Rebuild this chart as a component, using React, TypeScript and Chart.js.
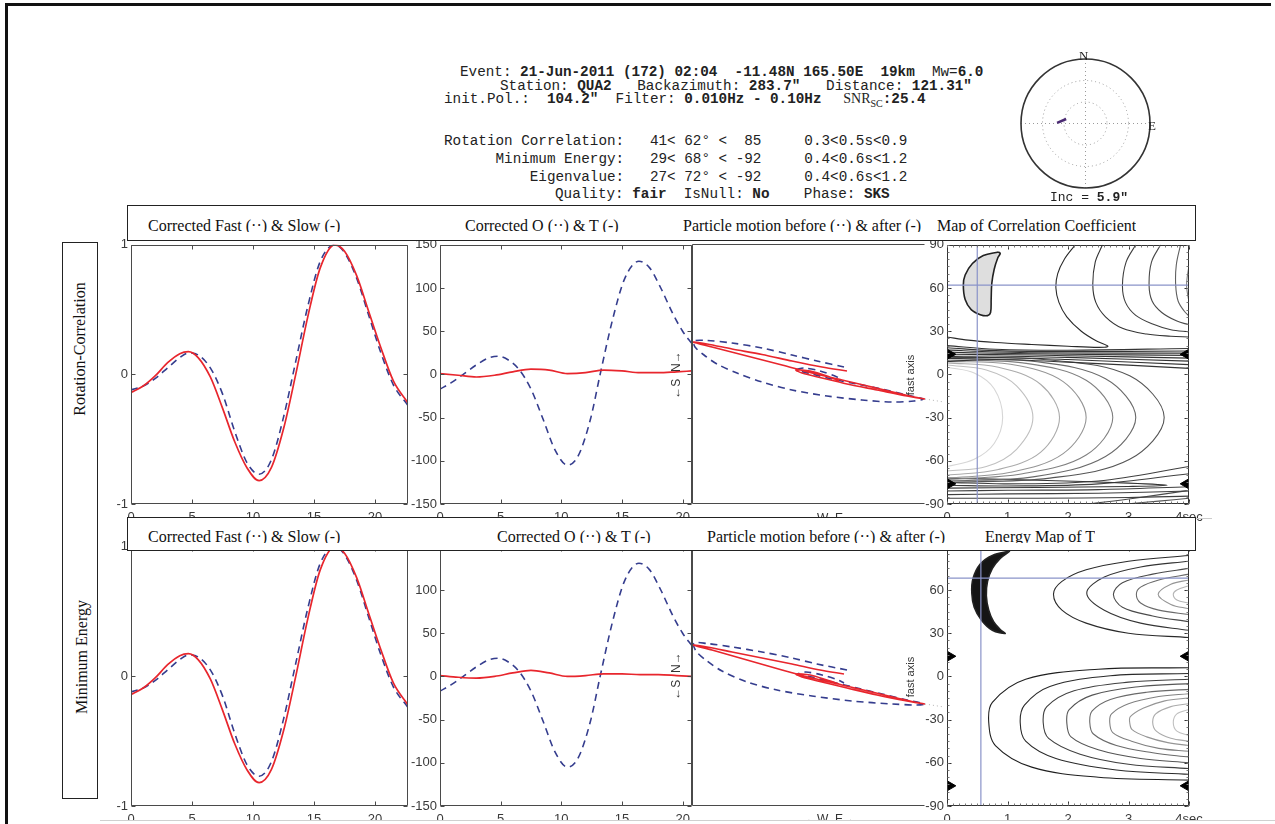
import React, { useEffect, useRef } from "react";
import { Chart, registerables } from "chart.js";

// ---------------- data ----------------
// waveforms: corrected fast (dashed) & slow (solid), amplitude normalised
const WAVE_TIME = [0, 1, 2, 3, 4, 4.7, 5.5, 6.5, 7.5, 8.5, 9.5, 10.5, 11.5, 12.5, 13.5, 14.5, 15.5, 16.7, 17.5, 18.5, 19.5, 20.5, 21.5, 22.7];
const FAST = [-0.12, -0.09, -0.03, 0.05, 0.13, 0.165, 0.15, 0.05, -0.15, -0.44, -0.68, -0.77, -0.66, -0.33, 0.1, 0.53, 0.87, 1.0, 0.94, 0.74, 0.45, 0.16, -0.08, -0.24];
const SLOW = [-0.14, -0.09, -0.01, 0.09, 0.16, 0.175, 0.13, -0.02, -0.26, -0.52, -0.72, -0.82, -0.72, -0.42, 0.0, 0.45, 0.82, 1.0, 0.95, 0.76, 0.48, 0.2, -0.05, -0.22];
const WAVE_X_TICKS = [0, 5, 10, 15, 20];
const WAVE_Y_TICKS = [-1, 0, 1];

// corrected O (dashed) & T (solid)
const O_TIME = [0, 1, 2, 3, 4, 4.8, 5.6, 6.5, 7.5, 8.5, 9.5, 10.5, 11.4, 12.4, 13.2, 14.2, 15.2, 16.4, 17.3, 18.2, 19.2, 20, 20.75];
const O_COMP = [-17, -9, 1, 11, 19, 21, 17, 6, -17, -52, -88, -105, -94, -52, 0, 62, 110, 131, 123, 100, 70, 50, 36];
const T_TIME = [0, 1.5, 3, 4.5, 6, 7.5, 9, 10.5, 12, 13.5, 15, 16.5, 18, 19.5, 20.75];
const T_COMP_RC = [1, -1, -3, -1, 3, 6, 5, 1, 2, 5, 4, 2, 2, 3, 4];
const T_COMP_ME = [1, -1, -2, 0, 4, 7, 4, 0, 1, 3, 3, 2, 2, 1, 0];
const OT_Y_TICKS = [-150, -100, -50, 0, 50, 100, 150];

// particle motion (E-W vs N-S, arbitrary units)
const PM_BEFORE_RC = [[152, 7], [125, 13], [100, 19], [70, 26], [40, 31], [15, 33.5], [2, 33], [3, 27], [12, 19], [25, 10], [45, 1], [70, -8], [100, -16], [135, -22], [170, -26], [200, -28], [222, -27], [231, -25], [215, -21], [190, -15], [165, -10], [140, -5], [120, 0], [105, 4], [112, 6], [128, 3], [145, -3], [150, -6]];
const PM_AFTER_RC = [[155, 3], [130, 7], [100, 13], [70, 19.5], [40, 25], [15, 30], [1, 32], [20, 27], [55, 18], [90, 9], [120, 1], [150, -6], [180, -13], [205, -19], [222, -23], [233, -25], [215, -22], [185, -16], [155, -10], [130, -4], [110, 1], [104, 4], [118, 3], [135, -2], [147, -7]];
const PM_BEFORE_ME = [[155, 6], [125, 12], [100, 18], [70, 24], [40, 29], [15, 32.5], [2, 33], [4, 25], [15, 15], [30, 5], [55, -6], [85, -14], [120, -20], [160, -25], [200, -28], [225, -29], [232, -28], [215, -24], [190, -18], [165, -12], [140, -6], [120, -1], [106, 2], [114, 4], [130, 1], [146, -4], [152, -7]];
const PM_AFTER_ME = [[152, 2], [128, 6], [100, 12], [70, 18], [40, 24], [15, 29], [1, 31], [20, 26], [55, 16], [90, 6], [120, -2], [150, -9], [180, -16], [205, -22], [222, -26], [233, -28], [215, -25], [185, -19], [155, -12], [130, -6], [110, -1], [104, 2], [118, 1], [135, -4], [147, -8]];
const FAST_AXIS_RC = [[233, -25], [252, -28]];
const FAST_AXIS_ME = [[233, -28], [252, -31]];

// maps: delay time (s) vs fast axis (deg)
const MAP_X_TICKS = [0, 1, 2, 3, 4];
const MAP_Y_TICKS = [-90, -60, -30, 0, 30, 60, 90];
const CORR_BEST = { dt: 0.5, phi: 62 };
const ENERGY_BEST = { dt: 0.56, phi: 68.3 };
const NULL_DIRS = [14, -76];

const CORR_CONFIDENCE = [[0.85, 85], [0.6, 82.5], [0.42, 77], [0.3, 69], [0.27, 62], [0.3, 52], [0.4, 45], [0.55, 41.5], [0.67, 40.8], [0.72, 43], [0.73, 52], [0.74, 63], [0.78, 73], [0.84, 81], [0.88, 84], [0.85, 85]];
const ENERGY_CONFIDENCE = [[1.04, 87], [0.75, 84], [0.55, 78], [0.43, 68], [0.41, 58], [0.45, 48], [0.57, 39], [0.75, 32], [0.96, 29.8], [0.88, 32.5], [0.77, 38], [0.69, 46], [0.65, 56], [0.67, 66], [0.75, 75], [0.88, 82], [1.04, 87]];

const CORR_CONTOURS = [
  [[2.12, 90], [1.94, 80], [1.83, 70], [1.8, 60], [1.85, 50], [1.98, 40], [2.22, 30], [2.48, 23], [2.66, 19.5], [2.5, 18.8], [2.0, 19.6], [1.4, 20.8], [0.8, 22.2], [0.35, 23.8], [0, 26]],
  [[2.57, 90], [2.45, 78], [2.41, 62], [2.46, 50], [2.62, 40], [2.9, 32], [3.3, 28], [3.7, 26.5], [4, 26]],
  [[3.12, 90], [2.96, 78], [2.9, 62], [2.95, 50], [3.12, 41], [3.4, 35], [3.7, 31], [4, 29.5]],
  [[3.53, 90], [3.38, 78], [3.34, 62], [3.39, 51], [3.55, 43], [3.8, 37], [4, 34.5]],
  [[3.86, 90], [3.79, 76], [3.78, 62], [3.82, 51], [3.92, 44], [4, 40.5]],
  [[4, 76], [3.96, 62], [4, 50]],
  [[0, 20], [0.8, 17.5], [2, 16.8], [4, 18]],
  [[0, 18.5], [0.8, 16.5], [2, 15.8], [4, 16.3]],
  [[0, 17], [0.8, 15.6], [2, 14.9], [4, 14.8]],
  [[0, 15.5], [0.8, 14.7], [2, 14], [4, 13.2]],
  [[0, 14], [0.8, 13.8], [2, 13], [4, 11.3]],
  [[0, 12.5], [0.8, 12.8], [2, 11.8], [4, 9.2]],
  [[0, 11], [0.8, 11.7], [2, 10.3], [4, 6.8]],
  [[0, 9], [0.8, 10.3], [2, 8.5], [4, 4.2]],
  [[0, 5], [0.45, 1], [0.78, -10], [0.92, -30], [0.78, -48], [0.45, -59], [0, -64]],
  [[0, 6.5], [0.65, 3], [1.15, -8], [1.42, -30], [1.15, -52], [0.65, -64], [0, -67]],
  [[0, 8], [0.85, 5], [1.55, -7], [1.86, -30], [1.55, -54], [0.85, -66], [0, -70]],
  [[0, 9], [1.05, 7], [1.92, -5], [2.3, -30], [1.92, -55], [1.05, -68], [0, -72]],
  [[0, 10], [1.25, 8], [2.3, -4], [2.74, -30], [2.3, -56], [1.25, -69], [0, -73]],
  [[0, 11], [1.45, 9], [2.62, -3], [3.12, -30], [2.62, -57], [1.45, -71], [0, -74]],
  [[0, 12], [1.7, 10], [3.02, -1], [3.59, -30], [3.02, -59], [1.7, -72], [0, -75]],
  [[0, -72], [1.5, -73.5], [3, -75.5], [3.64, -77], [3, -77.8], [1.5, -78.5], [0, -79]],
  [[0, -75], [1, -76], [2.5, -74], [4, -64]],
  [[0, -77], [1, -77.5], [2.5, -76], [4, -69]],
  [[0, -81], [1, -80.5], [2.5, -80], [4, -78]],
  [[0, -83.5], [1, -83], [2.5, -82.5], [4, -81]],
  [[0, -86], [1.5, -86], [3, -85.5], [4, -84.5]],
  [[2.35, -90], [3.1, -86], [4, -80.5]],
  [[2.96, -90], [3.5, -88], [4, -86]],
];
const CORR_LEVELS = [0.9, 0.85, 0.8, 0.75, 0.65, 0.5, 0.85, 0.85, 0.85, 0.85, 0.85, 0.85, 0.85, 0.85, 0.1, 0.2, 0.3, 0.4, 0.5, 0.6, 0.7, 0.85, 0.8, 0.8, 0.8, 0.8, 0.8, 0.75, 0.7];

const ENERGY_CONTOURS = [
  [[4, 84], [3, 80], [2.3, 74], [1.9, 66], [1.76, 57], [1.9, 46], [2.3, 37], [3, 30], [4, 27]],
  [[4, 80], [3.2, 76], [2.6, 69], [2.31, 58], [2.6, 46], [3.2, 37], [4, 32]],
  [[4, 75], [3.4, 71], [2.9, 65], [2.75, 57], [2.9, 48], [3.4, 42], [4, 38]],
  [[4, 71], [3.5, 67], [3.2, 62], [3.13, 57], [3.2, 51], [3.5, 46], [4, 43]],
  [[4, 67], [3.7, 64], [3.49, 57], [3.7, 50], [4, 47]],
  [[4, 63], [3.8, 60], [3.74, 57], [3.8, 53], [4, 51]],
  [[4, 6], [2.5, 5], [1.3, -2], [0.75, -18], [0.69, -32], [0.8, -48], [1.4, -63], [2.5, -70], [4, -72]],
  [[4, 2], [2.7, 0.5], [1.7, -7], [1.28, -20], [1.21, -32], [1.3, -45], [1.8, -57], [2.8, -65], [4, -68]],
  [[4, -2], [3, -4], [2.1, -10], [1.65, -21], [1.59, -32], [1.68, -43], [2.2, -54], [3, -61], [4, -64]],
  [[4, -5], [3.2, -7], [2.4, -13], [2.02, -23], [1.98, -32], [2.05, -42], [2.5, -51], [3.2, -57], [4, -60]],
  [[4, -9], [3.3, -11], [2.7, -16], [2.4, -24], [2.36, -32], [2.42, -40], [2.8, -48], [3.4, -53], [4, -56]],
  [[4, -12], [3.5, -14], [3.0, -19], [2.72, -26], [2.69, -32], [2.74, -39], [3.05, -45], [3.5, -50], [4, -52]],
  [[4, -15], [3.6, -17], [3.25, -22], [3.03, -28], [3.02, -32], [3.06, -37], [3.3, -42], [3.65, -46], [4, -48]],
  [[4, -19], [3.7, -21], [3.45, -26], [3.4, -32], [3.46, -38], [3.7, -43], [4, -45]],
  [[4, -23], [3.8, -26], [3.74, -32], [3.8, -38], [4, -41]],
];
const ENERGY_LEVELS = [0.9, 0.85, 0.75, 0.6, 0.4, 0.25, 0.95, 0.9, 0.8, 0.7, 0.6, 0.5, 0.4, 0.3, 0.2];

// stereoplot: projected splitting direction
const POLAR_SEG_X = [-0.44, -0.3];
const POLAR_SEG_Y = [0.01, 0.07];

// ---------------- chart helpers ----------------
const framePlugin = {
  id: "frame",
  afterDatasetsDraw(chart: any, _a: any, o: any) {
    if (!o || !o.sides) return;
    const { ctx, chartArea: a, scales } = chart;
    const L = Math.round(a.left) + 0.5, R = Math.round(a.right) - 0.5;
    const T = Math.round(a.top) + 0.5, B = Math.round(a.bottom) - 0.5;
    const s: string = o.sides;
    ctx.save();
    ctx.strokeStyle = o.color || "#4a4a4a";
    ctx.lineWidth = 1;
    ctx.beginPath();
    if (s.includes("l")) { ctx.moveTo(L, T); ctx.lineTo(L, B); }
    if (s.includes("r")) { ctx.moveTo(R, T); ctx.lineTo(R, B); }
    if (s.includes("t")) { ctx.moveTo(L, T); ctx.lineTo(R, T); }
    if (s.includes("b")) { ctx.moveTo(L, B); ctx.lineTo(R, B); }
    ctx.stroke();
    const drawX = (vals: number[], len: number) => {
      vals.forEach((v) => {
        const p = Math.round(scales.x.getPixelForValue(v)) + 0.5;
        if (s.includes("b")) { ctx.moveTo(p, B); ctx.lineTo(p, B - len); }
        if (s.includes("t")) { ctx.moveTo(p, T); ctx.lineTo(p, T + len); }
      });
    };
    const drawY = (vals: number[], len: number) => {
      vals.forEach((v) => {
        const p = Math.round(scales.y.getPixelForValue(v)) + 0.5;
        if (s.includes("l")) { ctx.moveTo(L, p); ctx.lineTo(L + len, p); }
        if (s.includes("r")) { ctx.moveTo(R, p); ctx.lineTo(R - len, p); }
      });
    };
    ctx.beginPath();
    if (o.xt) drawX(o.xt, 4);
    if (o.yt) drawY(o.yt, 4);
    ctx.stroke();
    if (o.minorX || o.minorY) {
      ctx.beginPath();
      ctx.strokeStyle = "#777";
      if (o.minorX) {
        const vals: number[] = [];
        for (let v = scales.x.min; v <= scales.x.max + 1e-9; v += o.minorX) vals.push(v);
        drawX(vals, 2);
      }
      if (o.minorY) {
        const vals: number[] = [];
        for (let v = scales.y.min; v <= scales.y.max + 1e-9; v += o.minorY) vals.push(v);
        drawY(vals, 2);
      }
      ctx.stroke();
    }
    ctx.restore();
  },
};

const polarPlugin = {
  id: "polarGrid",
  beforeDatasetsDraw(chart: any, _a: any, o: any) {
    if (!o || !o.on) return;
    const { ctx, chartArea: a } = chart;
    const cx = (a.left + a.right) / 2, cy = (a.top + a.bottom) / 2;
    const r = (a.right - a.left) / 2;
    ctx.save();
    ctx.strokeStyle = "#9a9a9a";
    ctx.lineWidth = 1;
    ctx.setLineDash([1, 3]);
    [r / 3, (2 * r) / 3].forEach((rr) => {
      ctx.beginPath();
      ctx.arc(cx, cy, rr, 0, Math.PI * 2);
      ctx.stroke();
    });
    ctx.beginPath();
    ctx.moveTo(cx - r, cy); ctx.lineTo(cx + r, cy);
    ctx.moveTo(cx, cy - r); ctx.lineTo(cx, cy + r);
    ctx.stroke();
    ctx.setLineDash([]);
    ctx.strokeStyle = "#333";
    ctx.lineWidth = 1.6;
    ctx.beginPath();
    ctx.arc(cx, cy, r, 0, Math.PI * 2);
    ctx.stroke();
    ctx.restore();
  },
};

Chart.register(...registerables, framePlugin, polarPlugin);

const TICK_FONT = { family: "'Liberation Sans', Arial, Helvetica, sans-serif", size: 13 };
const RED = "#e8262d";
const BLUE = "#353d8e";
const CROSS = "#8a93c9";

const pts = (arr: number[][]) => arr.map(([x, y]) => ({ x, y }));
const zip = (xs: number[], ys: number[]) => xs.map((x, i) => ({ x, y: ys[i] }));
const gray = (level: number) => {
  const g = Math.round(235 - level * 215);
  return `rgb(${g},${g},${g})`;
};

function axis(min: number, max: number, ticks: number[] | null, size: number, horizontal: boolean, fmt?: (v: number) => string) {
  return {
    type: "linear",
    min,
    max,
    display: ticks !== null,
    grid: { display: false, drawTicks: false },
    border: { display: false },
    afterBuildTicks: (s: any) => {
      if (ticks) s.ticks = ticks.map((v) => ({ value: v }));
    },
    afterFit: (s: any) => {
      if (horizontal) s.height = size;
      else s.width = size;
    },
    ticks: {
      font: TICK_FONT,
      color: "#3a3a3a",
      padding: horizontal ? 6 : 3,
      maxRotation: 0,
      minRotation: 0,
      autoSkip: false,
      callback: (v: any) => (fmt ? fmt(Number(v)) : String(v)),
    },
  };
}

type PanelSpec = {
  x: number; y: number; w: number; h: number;
  axisW: number; padT: number; padR: number; axisH: number;
  scales: any; datasets: any[]; frame?: any; polar?: boolean; padL?: number;
};

function ChartPanel({ spec }: { spec: PanelSpec }) {
  const ref = useRef<HTMLCanvasElement>(null);
  const left = spec.x - spec.axisW - (spec.padL || 0);
  const top = spec.y - spec.padT;
  const width = (spec.padL || 0) + spec.axisW + spec.w + spec.padR;
  const height = spec.padT + spec.h + spec.axisH;
  useEffect(() => {
    const chart = new Chart(ref.current as HTMLCanvasElement, {
      type: "scatter",
      data: { datasets: spec.datasets },
      options: {
        responsive: false,
        animation: false,
        events: [],
        layout: { padding: { left: spec.padL || 0, top: spec.padT, right: spec.padR, bottom: spec.scales.x.display ? 0 : spec.axisH } },
        scales: spec.scales,
        plugins: {
          legend: { display: false },
          tooltip: { enabled: false },
          frame: spec.frame || {},
          polarGrid: { on: !!spec.polar },
        } as any,
      } as any,
    });
    return () => chart.destroy();
  }, []);
  return <canvas ref={ref} width={width} height={height} style={{ position: "absolute", left, top, width, height }} />;
}

const line = (data: any[], color: string, width: number, extra: any = {}) => ({
  data,
  borderColor: color,
  backgroundColor: color,
  borderWidth: width,
  pointRadius: 0,
  showLine: true,
  fill: false,
  ...extra,
});

function wavePanel(x: number, y: number): PanelSpec {
  return {
    x, y, w: 277, h: 260, axisW: 30, padT: 10, padR: 14, axisH: 26,
    scales: { x: axis(0, 22.7, WAVE_X_TICKS, 26, true), y: axis(-1, 1, WAVE_Y_TICKS, 30, false) },
    datasets: [
      line(zip(WAVE_TIME, SLOW), RED, 1.7, { cubicInterpolationMode: "monotone" }),
      line(zip(WAVE_TIME, FAST), BLUE, 1.6, { cubicInterpolationMode: "monotone", borderDash: [7, 5] }),
    ],
    frame: { sides: "lrtb", xt: WAVE_X_TICKS, yt: WAVE_Y_TICKS },
  };
}

function otPanel(x: number, y: number, tvals: number[]): PanelSpec {
  return {
    x, y, w: 252, h: 260, axisW: 36, padT: 10, padR: 4, axisH: 26,
    scales: { x: axis(0, 20.75, WAVE_X_TICKS, 26, true), y: axis(-150, 150, OT_Y_TICKS, 36, false) },
    datasets: [
      line(zip(T_TIME, tvals), RED, 1.7, { cubicInterpolationMode: "monotone" }),
      line(zip(O_TIME, O_COMP), BLUE, 1.6, { cubicInterpolationMode: "monotone", borderDash: [7, 5] }),
    ],
    frame: { sides: "lrtb", xt: WAVE_X_TICKS, yt: OT_Y_TICKS },
  };
}

function pmPanel(x: number, y: number, before: number[][], after: number[][], fa: number[][]): PanelSpec {
  return {
    x, y, w: 233, h: 260, axisW: 0, padT: 4, padR: 22, axisH: 4,
    scales: { x: axis(0, 233, null, 0, true), y: axis(-130, 130, null, 0, false) },
    datasets: [
      line(pts(after), RED, 1.6, { tension: 0.3 }),
      line(pts(before), BLUE, 1.6, { tension: 0.3, borderDash: [7, 5] }),
      line(pts(fa), "#b0b0b0", 1, { borderDash: [1, 3], clip: false }),
    ],
    frame: { sides: "ltb" },
  };
}

function mapPanel(x: number, y: number, contours: number[][][], levels: number[], conf: number[][], confColor: string, best: { dt: number; phi: number }): PanelSpec {
  const ds: any[] = [];
  ds.push(line(NULL_DIRS.map((p) => ({ x: 0.055, y: p })), "#000", 1, { showLine: false, pointStyle: "triangle", pointRadius: 5.5, rotation: 90, clip: false }));
  ds.push(line(NULL_DIRS.map((p) => ({ x: 3.945, y: p })), "#000", 1, { showLine: false, pointStyle: "triangle", pointRadius: 5.5, rotation: -90, clip: false }));
  ds.push(line([{ x: best.dt, y: -90 }, { x: best.dt, y: 90 }], CROSS, 1.2));
  ds.push(line([{ x: 0, y: best.phi }, { x: 4, y: best.phi }], CROSS, 1.2));
  ds.push(line(pts(conf), "#222", 1.6, { tension: 0.35, fill: "shape", backgroundColor: confColor }));
  contours.forEach((c, i) => ds.push(line(pts(c), gray(levels[i]), 1.1, { tension: 0.35 })));
  return {
    x, y, w: 242, h: 260, axisW: 30, padT: 10, padR: 24, axisH: 26,
    scales: {
      x: axis(0, 4, MAP_X_TICKS, 26, true, (v) => (v === 4 ? "4sec" : String(v))),
      y: axis(-90, 90, MAP_Y_TICKS, 30, false),
    },
    datasets: ds,
    frame: { sides: "lrtb", xt: MAP_X_TICKS, yt: MAP_Y_TICKS, minorX: 0.1, minorY: 5, color: "#333" },
  };
}

const polarSpec: PanelSpec = {
  x: 1021, y: 59, w: 129, h: 129, axisW: 0, padT: 2, padR: 2, padL: 2, axisH: 2,
  scales: { x: axis(-1, 1, null, 0, true), y: axis(-1, 1, null, 0, false) },
  datasets: [line(zip(POLAR_SEG_X, POLAR_SEG_Y), "#4a2a72", 2.6)],
  polar: true,
};

// ---------------- page ----------------
const MONO: React.CSSProperties = {
  position: "absolute",
  fontFamily: "'Liberation Mono', 'Courier New', monospace",
  fontSize: 14.3,
  lineHeight: "16px",
  whiteSpace: "pre",
  color: "#222",
};
const SERIF = "'Liberation Serif', 'Times New Roman', serif";
const SANS = "'Liberation Sans', Arial, sans-serif";

function Title({ x, top, h, text }: { x: number; top: number; h: number; text: string }) {
  return (
    <div style={{ position: "absolute", left: x, top, height: h, overflow: "hidden", fontFamily: SERIF, fontSize: 16, lineHeight: "18px", whiteSpace: "pre", color: "#111" }}>
      {text}
    </div>
  );
}

function VText({ cx, cy, text, font, size, color }: any) {
  return (
    <div style={{ position: "absolute", left: cx - 150, top: cy - 10, width: 300, height: 20, lineHeight: "20px", textAlign: "center", transform: "rotate(-90deg)", fontFamily: font, fontSize: size, color, whiteSpace: "pre" }}>
      {text}
    </div>
  );
}

export default function App() {
  return (
    <div style={{ position: "fixed", left: 0, top: 0, width: 1275, height: 824, overflow: "hidden", background: "#fff" }}>
      {/* outer frame */}
      <div style={{ position: "absolute", left: 5, top: 3, width: 1263, height: 900, borderTop: "3px solid #111", borderLeft: "3px solid #111" }} />

      {/* header */}
      <div style={{ ...MONO, left: 460, top: 64 }}>Event: <b>21-Jun-2011 (172) 02:04  -11.48N 165.50E  19km</b>  Mw=<b>6.0</b></div>
      <div style={{ ...MONO, left: 500, top: 78 }}>Station: <b>QUA2</b>{"   Backazimuth: "}<b>283.7″</b>{"   Distance: "}<b>121.31″</b></div>
      <div style={{ ...MONO, left: 444, top: 91 }}>
        {"init.Pol.:  "}<b>104.2″</b>{"  Filter: "}<b>0.010Hz - 0.10Hz</b>{"   "}<span style={{ fontFamily: SERIF, fontSize: 14, marginLeft: -4 }}>SNR<sub style={{ fontSize: 10 }}>SC</sub></span><b>:25.4</b>
      </div>
      <div style={{ ...MONO, left: 444, top: 133 }}>{"Rotation Correlation:   41< 62° <  85     0.3<0.5s<0.9"}</div>
      <div style={{ ...MONO, left: 444, top: 151 }}>{"      Minimum Energy:   29< 68° < -92     0.4<0.6s<1.2"}</div>
      <div style={{ ...MONO, left: 444, top: 169 }}>{"          Eigenvalue:   27< 72° < -92     0.4<0.6s<1.2"}</div>
      <div style={{ ...MONO, left: 555, top: 186 }}>{"Quality: "}<b>fair</b>{"  IsNull: "}<b>No</b>{"    Phase: "}<b>SKS</b></div>

      {/* stereoplot */}
      <ChartPanel spec={polarSpec} />
      <div style={{ position: "absolute", left: 1079, top: 48, fontFamily: SERIF, fontSize: 13, color: "#222" }}>N</div>
      <div style={{ position: "absolute", left: 1148, top: 118, fontFamily: SERIF, fontSize: 13, color: "#222" }}>E</div>
      <div style={{ ...MONO, fontSize: 13, left: 1050, top: 190 }}>{"Inc = "}<b>5.9″</b></div>

      {/* row 1 : rotation correlation */}
      <ChartPanel spec={wavePanel(131, 244)} />
      <ChartPanel spec={otPanel(440, 244, T_COMP_RC)} />
      <ChartPanel spec={pmPanel(692, 244, PM_BEFORE_RC, PM_AFTER_RC, FAST_AXIS_RC)} />
      <ChartPanel spec={mapPanel(947, 244, CORR_CONTOURS, CORR_LEVELS, CORR_CONFIDENCE, "#dedede", CORR_BEST)} />
      <VText cx={676} cy={375} text="←S  N→" font={SANS} size={12} color="#333" />
      <VText cx={910} cy={375} text="fast axis" font={SANS} size={11} color="#333" />
      <div style={{ position: "absolute", left: 805, top: 511, fontFamily: SANS, fontSize: 12, color: "#333", whiteSpace: "pre" }}>←W  E→</div>

      {/* row 2 : minimum energy */}
      <ChartPanel spec={wavePanel(131, 546)} />
      <ChartPanel spec={otPanel(440, 546, T_COMP_ME)} />
      <ChartPanel spec={pmPanel(692, 546, PM_BEFORE_ME, PM_AFTER_ME, FAST_AXIS_ME)} />
      <ChartPanel spec={mapPanel(947, 546, ENERGY_CONTOURS, ENERGY_LEVELS, ENERGY_CONFIDENCE, "#151515", ENERGY_BEST)} />
      <VText cx={676} cy={676} text="←S  N→" font={SANS} size={12} color="#333" />
      <VText cx={910} cy={677} text="fast axis" font={SANS} size={11} color="#333" />
      <div style={{ position: "absolute", left: 805, top: 812, fontFamily: SANS, fontSize: 12, color: "#333", whiteSpace: "pre" }}>←W  E→</div>

      {/* title boxes */}
      <div style={{ position: "absolute", left: 127, top: 205, width: 1067, height: 34, border: "1.5px solid #222", background: "#fff" }} />
      <Title x={148} top={217} h={14.5} text="Corrected Fast (··) & Slow (-)" />
      <Title x={465} top={217} h={14.5} text="Corrected O (··) & T (-)" />
      <Title x={683} top={217} h={14.5} text="Particle motion before (··) & after (-)" />
      <Title x={937} top={217} h={14.5} text="Map of Correlation Coefficient" />

      <div style={{ position: "absolute", left: 127, top: 517, width: 1067, height: 32, border: "1.5px solid #222", background: "#fff" }} />
      <div style={{ position: "absolute", left: 1196, top: 518, width: 16, height: 0, borderTop: "1px solid #ccc" }} />
      <Title x={148} top={528} h={15} text="Corrected Fast (··) & Slow (-)" />
      <Title x={497} top={528} h={15} text="Corrected O (··) & T (-)" />
      <Title x={707} top={528} h={15} text="Particle motion before (··) & after (-)" />
      <Title x={985} top={528} h={15} text="Energy Map of T" />

      {/* method label box */}
      <div style={{ position: "absolute", left: 62, top: 242, width: 34, height: 555, border: "1.5px solid #222", background: "#fff" }} />
      <VText cx={80} cy={349} text="Rotation-Correlation" font={SERIF} size={16} color="#111" />
      <VText cx={82} cy={657} text="Minimum Energy" font={SERIF} size={16} color="#111" />

      {/* bottom page edge */}
      <div style={{ position: "absolute", left: 100, top: 820, width: 1175, height: 10, borderTop: "1px solid #d0d0d0", background: "#fff" }} />
    </div>
  );
}
